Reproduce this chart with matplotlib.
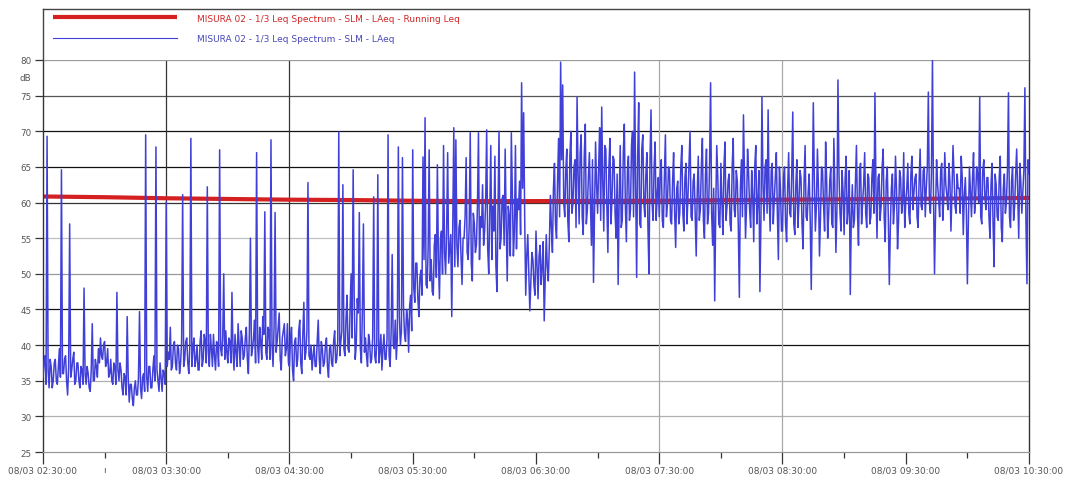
import matplotlib
matplotlib.use("Agg")
import matplotlib.pyplot as plt
import numpy as np

# LAeq read on each full minute, one list per hour (start 08/03 02:30:00)
LAEQ_0230 = [35.5, 38.5, 69.3, 34.0, 37.0, 35.0, 38.0, 34.5, 39.5, 64.6,
             36.0, 38.5, 33.0, 57.0, 36.5, 39.0, 35.0, 37.5, 34.0, 36.5,
             48.0, 34.5, 36.0, 33.5, 43.0, 35.0, 37.0, 39.5, 41.0, 38.0,
             40.5, 37.5, 35.5, 38.0, 34.5, 37.0, 47.4, 35.0, 36.5, 33.0,
             35.5, 44.0, 32.0, 34.5, 31.5, 35.0, 33.0, 44.7, 32.5, 36.0,
             69.5, 33.5, 37.0, 34.0, 38.5, 67.8, 35.0, 37.5, 33.5, 36.0]
LAEQ_0330 = [60.1, 39.0, 42.5, 37.0, 40.5, 36.5, 39.5, 37.5, 61.1, 38.0,
             41.0, 36.0, 69.0, 39.5, 37.0, 40.0, 36.5, 42.0, 38.0, 40.5,
             62.2, 37.0, 39.5, 41.5, 36.5, 40.0, 67.4, 38.5, 50.0, 42.0,
             37.5, 40.5, 47.4, 36.5, 39.0, 43.0, 37.0, 41.0, 38.5, 42.5,
             36.0, 55.0, 39.5, 43.5, 67.0, 37.5, 40.5, 44.0, 58.7, 38.0,
             42.0, 68.8, 37.0, 58.6, 40.5, 44.5, 36.5, 42.0, 38.5, 43.0]
LAEQ_0430 = [37.0, 42.5, 35.0, 41.0, 38.0, 43.5, 36.0, 46.0, 39.0, 62.8,
             38.0, 36.5, 40.0, 37.0, 43.5, 36.0, 39.5, 37.5, 41.0, 35.5,
             40.0, 37.0, 42.0, 38.0, 69.9, 40.5, 62.5, 38.5, 47.0, 39.0,
             50.0, 64.6, 38.0, 46.5, 58.6, 37.5, 57.0, 41.0, 37.0, 40.5,
             38.0, 60.8, 37.5, 63.9, 39.0, 36.5, 41.5, 38.0, 69.5, 37.0,
             52.7, 39.5, 38.0, 67.8, 40.0, 66.3, 41.5, 45.0, 39.0, 47.0]
LAEQ_0530 = [67.4, 46.0, 51.5, 44.0, 50.5, 66.4, 71.9, 48.0, 67.4, 52.0,
             47.0, 55.5, 65.3, 46.5, 56.0, 68.0, 50.0, 67.0, 53.5, 44.0,
             70.5, 68.8, 51.0, 57.5, 48.5, 55.0, 66.3, 52.0, 69.8, 49.0,
             57.0, 54.0, 69.8, 58.0, 62.5, 56.0, 70.2, 50.0, 68.0, 59.5,
             66.5, 47.5, 70.0, 55.0, 61.0, 67.5, 49.0, 58.0, 69.8, 52.5,
             68.0, 60.5, 63.0, 76.8, 72.6, 47.0, 55.5, 44.8, 53.0, 48.5]
LAEQ_0630 = [56.0, 46.5, 54.0, 51.0, 43.4, 55.5, 49.0, 61.0, 53.0, 65.5,
             55.0, 69.0, 79.7, 76.5, 58.0, 67.5, 54.5, 70.0, 60.0, 66.0,
             74.8, 57.0, 69.5, 55.5, 71.0, 59.0, 67.0, 54.0, 48.8, 68.5,
             58.5, 70.5, 73.4, 56.0, 67.5, 53.0, 69.0, 60.5, 66.0, 55.0,
             48.5, 68.0, 57.5, 71.0, 54.5, 66.5, 59.0, 70.0, 78.3, 49.5,
             74.0, 56.5, 69.5, 58.0, 67.0, 50.0, 73.0, 57.5, 68.5, 61.0]
LAEQ_0730 = [58.0, 66.0, 56.5, 69.5, 60.0, 64.5, 57.0, 67.0, 53.7, 63.0,
             58.5, 68.0, 56.0, 65.5, 61.0, 70.0, 57.5, 64.0, 52.5, 66.5,
             59.0, 69.0, 55.0, 67.5, 58.5, 76.8, 54.0, 46.2, 68.0, 57.0,
             65.5, 55.5, 68.5, 59.5, 64.0, 56.0, 69.0, 58.0, 63.0, 46.7,
             66.0, 72.3, 55.0, 67.5, 59.0, 64.5, 54.5, 68.0, 60.0, 47.5,
             74.8, 57.5, 66.0, 73.0, 56.0, 65.5, 60.5, 67.0, 52.0, 62.0]
LAEQ_0830 = [56.0, 65.0, 54.5, 67.0, 58.0, 72.7, 55.5, 66.0, 60.0, 63.5,
             53.5, 68.0, 57.5, 64.0, 47.8, 74.0, 56.0, 67.5, 52.5, 65.0,
             59.5, 68.5, 55.0, 63.0, 57.0, 69.0, 53.0, 77.2, 58.5, 64.5,
             55.5, 66.5, 59.0, 47.1, 62.5, 57.5, 68.0, 54.0, 65.5, 60.0,
             67.0, 56.5, 63.5, 58.0, 66.0, 75.4, 55.0, 64.0, 59.5, 67.5,
             54.5, 65.0, 48.5, 62.0, 57.0, 66.5, 53.5, 64.5, 58.5, 67.0]
LAEQ_0930 = [60.0, 65.5, 57.0, 66.5, 61.5, 64.0, 56.5, 67.5, 59.0, 65.0,
             62.0, 75.5, 58.5, 80.0, 50.0, 66.0, 60.5, 64.5, 57.5, 67.0,
             61.0, 65.5, 56.0, 68.0, 59.5, 64.0, 62.0, 66.5, 55.5, 63.5,
             48.6, 65.0, 58.0, 67.0, 60.5, 64.0, 74.8, 57.0, 66.0, 59.0,
             63.5, 55.0, 65.5, 51.0, 62.5, 57.5, 66.5, 54.5, 64.0, 60.0,
             75.4, 56.5, 65.0, 59.5, 67.5, 55.0, 63.0, 61.5, 76.1, 48.6, 64.0]

# LAeq read on each half minute (mm:30), one list per hour
LAEQ_0230_HALF = [37.5, 34.5, 36.5, 38.0, 34.0, 37.5, 35.0, 37.0, 35.5, 36.0,
                  38.0, 35.0, 37.0, 35.5, 38.0, 34.5, 37.5, 35.0, 37.0, 34.5,
                  36.0, 37.0, 34.0, 36.5, 35.0, 38.0, 35.5, 37.5, 38.5, 40.0,
                  37.0, 39.5, 36.0, 35.0, 37.5, 34.5, 36.5, 37.5, 34.0, 36.0,
                  33.0, 35.5, 34.5, 32.5, 34.0, 33.0, 35.5, 34.0, 35.5, 33.5,
                  35.5, 37.0, 34.0, 36.5, 35.0, 36.5, 33.5, 35.5, 36.5, 34.5]
LAEQ_0330_HALF = [37.0, 38.0, 36.5, 40.0, 37.5, 40.0, 36.0, 40.5, 37.0, 40.5,
                  37.5, 40.0, 37.0, 41.0, 38.0, 36.5, 40.5, 37.0, 41.5, 37.5,
                  39.0, 41.5, 37.0, 38.5, 40.5, 37.0, 39.5, 41.0, 38.0, 39.0,
                  41.0, 37.5, 39.5, 41.5, 37.0, 40.0, 42.0, 38.0, 41.0, 38.0,
                  42.0, 38.5, 41.0, 37.5, 40.0, 42.5, 38.0, 41.5, 39.0, 42.5,
                  38.0, 40.0, 42.5, 39.0, 42.5, 38.0, 41.0, 43.0, 39.5, 37.5]
LAEQ_0430_HALF = [41.0, 36.5, 40.5, 37.0, 42.0, 37.5, 41.5, 38.0, 42.0, 38.5,
                  40.0, 38.5, 37.0, 40.5, 38.0, 40.5, 37.0, 40.0, 37.0, 39.5,
                  37.5, 40.5, 37.5, 40.5, 38.5, 42.0, 39.5, 43.5, 39.5, 45.0,
                  41.0, 47.0, 40.0, 44.5, 39.5, 45.0, 39.0, 38.5, 41.5, 37.5,
                  41.0, 38.5, 40.5, 37.5, 41.5, 39.5, 38.0, 41.0, 38.5, 42.0,
                  40.0, 43.5, 41.0, 44.0, 42.0, 45.5, 40.5, 43.5, 45.5, 42.0]
LAEQ_0530_HALF = [48.0, 51.5, 46.5, 49.5, 47.0, 52.0, 48.5, 53.5, 49.0, 47.5,
                  54.0, 49.5, 52.0, 55.0, 50.0, 53.0, 56.0, 51.5, 55.5, 57.0,
                  51.0, 54.0, 56.5, 52.5, 55.0, 58.0, 53.0, 57.0, 51.5, 58.5,
                  53.0, 59.5, 52.0, 56.5, 54.0, 60.0, 53.5, 58.5, 52.0, 56.0,
                  51.0, 58.5, 53.5, 60.5, 54.0, 57.0, 59.5, 52.5, 61.0, 56.0,
                  53.5, 59.0, 55.5, 62.0, 58.0, 52.5, 50.0, 49.0, 52.0, 47.0]
LAEQ_0630_HALF = [51.0, 52.5, 48.5, 54.5, 49.5, 51.0, 54.0, 56.5, 62.0, 57.0,
                  63.0, 58.0, 66.0, 60.0, 64.5, 57.5, 66.5, 58.5, 65.0, 56.5,
                  64.0, 67.0, 58.0, 66.5, 57.0, 63.5, 60.0, 66.0, 59.0, 62.5,
                  65.0, 57.5, 63.0, 68.0, 59.5, 65.0, 57.0, 66.5, 58.5, 64.0,
                  60.5, 56.5, 67.0, 59.5, 64.5, 57.5, 68.0, 58.0, 63.0, 66.5,
                  57.0, 67.5, 60.0, 64.0, 56.5, 66.0, 60.0, 65.0, 57.5, 63.5]
LAEQ_0730_HALF = [64.0, 57.5, 63.5, 58.0, 65.0, 57.5, 63.0, 58.5, 62.0, 57.0,
                  65.0, 58.5, 63.5, 57.0, 65.5, 58.0, 63.0, 58.5, 61.5, 57.5,
                  65.0, 57.5, 64.0, 57.0, 65.5, 58.5, 62.0, 59.0, 63.5, 56.5,
                  60.0, 65.0, 57.5, 63.0, 57.0, 65.0, 59.0, 64.5, 56.5, 62.0,
                  58.0, 63.5, 59.5, 64.0, 56.5, 61.0, 65.0, 57.0, 64.5, 57.5,
                  62.5, 65.0, 58.5, 61.0, 64.5, 57.0, 63.5, 58.5, 65.0, 56.0]
LAEQ_0830_HALF = [63.5, 57.0, 62.0, 58.5, 64.0, 57.0, 62.5, 56.5, 64.5, 57.0,
                  63.0, 58.0, 61.5, 57.5, 60.0, 63.0, 59.5, 62.0, 58.0, 64.5,
                  56.0, 63.0, 58.5, 65.0, 56.5, 62.0, 59.0, 64.0, 56.0, 61.5,
                  63.5, 57.0, 64.5, 58.0, 56.5, 63.0, 58.5, 64.5, 57.0, 62.5,
                  58.5, 64.0, 57.0, 63.5, 58.5, 62.0, 63.5, 57.5, 65.0, 58.0,
                  63.0, 58.0, 56.5, 64.0, 59.5, 62.0, 57.5, 63.5, 60.0, 56.5]
LAEQ_0930_HALF = [62.0, 58.5, 64.0, 59.0, 63.5, 58.0, 63.0, 59.5, 64.5, 58.0,
                  65.0, 60.0, 64.0, 61.0, 58.5, 62.5, 58.0, 65.5, 60.5, 62.5,
                  59.0, 63.0, 61.5, 64.0, 58.5, 62.0, 58.5, 63.5, 61.0, 59.0,
                  57.5, 61.5, 63.5, 58.5, 65.0, 60.0, 58.0, 64.5, 61.0, 63.5,
                  58.0, 62.5, 57.0, 64.0, 58.0, 63.5, 56.5, 62.0, 58.5, 64.5,
                  58.0, 63.0, 57.5, 64.0, 61.0, 65.5, 58.5, 64.5, 57.5, 66.0]

# running Leq, minutes from start
LEQ_MINUTES = [0, 30, 60, 90, 120, 150, 180, 210, 240, 300, 360, 420, 480]
LEQ_VALUES = [60.85, 60.75, 60.6, 60.5, 60.4, 60.35, 60.25, 60.2, 60.2,
              60.25, 60.4, 60.5, 60.65]

TICK_MINUTES = [0, 60, 120, 180, 240, 300, 360, 420, 480]
TICK_LABELS = ["08/03 02:30:00", "08/03 03:30:00", "08/03 04:30:00",
               "08/03 05:30:00", "08/03 06:30:00", "08/03 07:30:00",
               "08/03 08:30:00", "08/03 09:30:00", "08/03 10:30:00"]
Y_TICKS = [25, 30, 35, 40, 45, 50, 55, 60, 65, 70, 75, 80]

LABEL_RUNNING = "MISURA 02 - 1/3 Leq Spectrum - SLM - LAeq - Running Leq"
LABEL_LAEQ = "MISURA 02 - 1/3 Leq Spectrum - SLM - LAeq"

HGRID_COLOR = {30: "#b0b0b0", 35: "#b0b0b0", 40: "#111111", 45: "#111111",
               50: "#9a9a9a", 55: "#c0c0c0", 60: "#333333", 65: "#111111",
               70: "#111111", 75: "#555555"}
VGRID_COLOR = {60: "#333333", 120: "#333333", 300: "#a8a8a8", 360: "#a8a8a8"}

on_minute = np.array(LAEQ_0230 + LAEQ_0330 + LAEQ_0430 + LAEQ_0530
                     + LAEQ_0630 + LAEQ_0730 + LAEQ_0830 + LAEQ_0930)
on_half = np.array(LAEQ_0230_HALF + LAEQ_0330_HALF + LAEQ_0430_HALF
                   + LAEQ_0530_HALF + LAEQ_0630_HALF + LAEQ_0730_HALF
                   + LAEQ_0830_HALF + LAEQ_0930_HALF)
minutes = np.arange(on_minute.size)

# interleave the two readings into one time series
n = on_half.size
t = np.append(np.column_stack([minutes[:n], minutes[:n] + 0.5]).ravel(), minutes[n:])
laeq = np.append(np.column_stack([on_minute[:n], on_half]).ravel(), on_minute[n:])

fig = plt.figure(figsize=(10.66, 4.81), dpi=100)
ax = fig.add_axes([0.0403, 0.0582, 0.925, 0.815])

for level, color in HGRID_COLOR.items():
    ax.axhline(level, color=color, linewidth=0.9, zorder=0.5)
for pos, color in VGRID_COLOR.items():
    ax.axvline(pos, color=color, linewidth=0.9, zorder=0.5)

red, = ax.plot(LEQ_MINUTES, LEQ_VALUES, color="#d42020", linewidth=3.0,
               solid_capstyle="butt", zorder=2, label=LABEL_RUNNING)
blue, = ax.plot(t, laeq, color="#4040d8", linewidth=1.1, zorder=3,
                label=LABEL_LAEQ)

ax.set_xlim(0, 480)
ax.set_ylim(25, 80)
ax.set_yticks(Y_TICKS)
ax.set_xticks(TICK_MINUTES)
ax.set_xticklabels(TICK_LABELS)
ax.set_xticks([m + 30 for m in TICK_MINUTES[:-1]], minor=True)
ax.set_xticklabels(["ı"] + [""] * 7, minor=True)
ax.tick_params(axis="x", which="major", direction="out", length=8.5, width=0.9,
               color="#333333", labelsize=6.5, labelcolor="#555555", pad=1.5)
ax.tick_params(axis="x", which="minor", direction="out", length=4.3, width=0.9,
               color="#333333", labelsize=6.5, labelcolor="#555555", pad=5)
ax.tick_params(axis="y", direction="out", length=5.8, width=0.9,
               color="#333333", labelsize=6.3, labelcolor="#555555", pad=2.5)
ax.text(-0.0125, 77.5, "dB", transform=ax.get_yaxis_transform(), ha="right",
        va="center", fontsize=6.3, color="#555555")

for side in ("left", "right"):
    ax.spines[side].set_color("#333333")
    ax.spines[side].set_linewidth(1.0)
for side in ("top", "bottom"):
    ax.spines[side].set_color("#9a9a9a")
    ax.spines[side].set_linewidth(0.9)

# legend box above the plot
leg_ax = fig.add_axes([0.0403, 0.8732, 0.925, 0.106])
leg_ax.set_xticks([])
leg_ax.set_yticks([])
leg_ax.spines["bottom"].set_visible(False)
for side in ("top", "left", "right"):
    leg_ax.spines[side].set_color("#444444")
    leg_ax.spines[side].set_linewidth(1.0)
leg = leg_ax.legend(handles=[red, blue], loc="upper left",
                    bbox_to_anchor=(0.010, 0.91), frameon=False, fontsize=6.5,
                    handlelength=13.8, handletextpad=2.2, labelspacing=1.3,
                    borderpad=0, borderaxespad=0,
                    labelcolor=["#d02828", "#4848b8"])
leg.get_lines()[1].set_linewidth(0.8)

fig.savefig("out.png", dpi=100)
